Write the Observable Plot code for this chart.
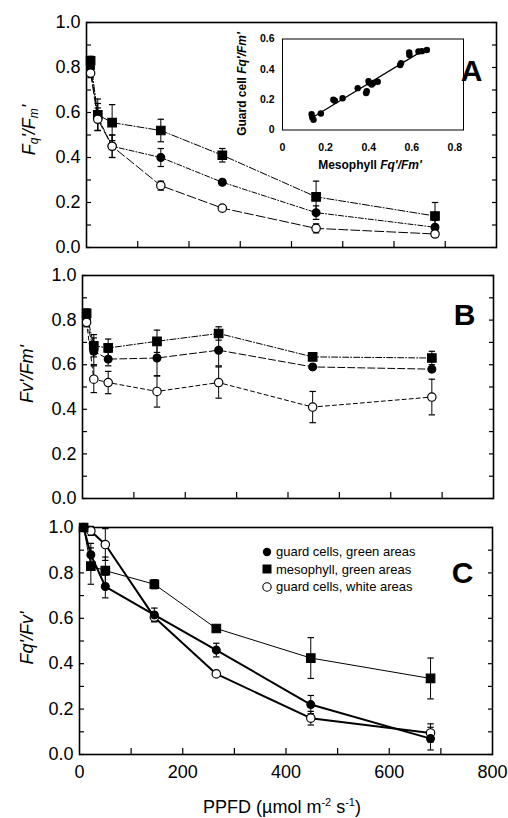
<!DOCTYPE html>
<html><head><meta charset="utf-8">
<script src="https://cdn.jsdelivr.net/npm/d3@7"></script>
<script src="https://cdn.jsdelivr.net/npm/@observablehq/plot@0.6"></script>
<style>
body{margin:0;background:#fff;}
#wrap{position:relative;width:508px;height:818px;font-family:"Liberation Sans",Arial,sans-serif;overflow:hidden;background:#fff;}
#wrap svg{position:absolute;}
.ylab{position:absolute;transform:translate(-50%,-50%) rotate(-90deg);white-space:nowrap;font-size:18px;font-style:italic;}
.ylab sub{font-size:12px;vertical-align:-3px;}
.xlab{position:absolute;transform:translate(-50%,-50%);white-space:nowrap;font-size:18px;}
.xlab sup{font-size:11px;vertical-align:7px;}
.ilab{position:absolute;white-space:nowrap;font-size:12px;font-weight:bold;}
.legend{position:absolute;left:261px;top:543px;font-size:13px;line-height:17.5px;}
.legend div{display:flex;align-items:center;height:17.5px;}
.legend svg{position:static !important;margin-right:3px;}
</style></head><body><div id="wrap"></div>
<script>
// ---------- data ----------
const ppfd = [8, 22, 50, 145, 265, 448, 680];

// Panel A: Fq'/Fm'
const aMeso = [0.83, 0.59, 0.555, 0.52, 0.41, 0.225, 0.14];
const aMesoErr = [0.02, 0.07, 0.08, 0.05, 0.03, 0.07, 0.06];
const aGuardGreen = [0.80, 0.58, 0.45, 0.40, 0.29, 0.155, 0.09];
const aGuardGreenErr = [0.02, 0.06, 0.05, 0.04, 0.01, 0.03, 0.03];
const aGuardWhite = [0.775, 0.57, 0.45, 0.275, 0.175, 0.085, 0.06];
const aGuardWhiteErr = [0.02, 0.05, 0.05, 0.02, 0.01, 0.02, 0.01];

// Panel B: Fv'/Fm'
const bMeso = [0.83, 0.685, 0.675, 0.705, 0.74, 0.635, 0.63];
const bMesoErr = [0.02, 0.05, 0.04, 0.05, 0.03, 0.01, 0.03];
const bGuardGreen = [0.80, 0.66, 0.625, 0.63, 0.665, 0.59, 0.58];
const bGuardGreenErr = [0.02, 0.06, 0.03, 0.08, 0.07, 0.01, 0.01];
const bGuardWhite = [0.79, 0.535, 0.52, 0.48, 0.52, 0.41, 0.455];
const bGuardWhiteErr = [0.02, 0.06, 0.05, 0.07, 0.07, 0.07, 0.08];

// Panel C: Fq'/Fv'
const cMeso = [1.0, 0.83, 0.81, 0.75, 0.555, 0.425, 0.335];
const cMesoErr = [0, 0.08, 0.06, 0.02, 0.01, 0.09, 0.09];
const cGuardGreen = [1.0, 0.88, 0.74, 0.615, 0.46, 0.22, 0.07];
const cGuardGreenErr = [0, 0.05, 0.05, 0.03, 0.03, 0.04, 0.05];
const cGuardWhite = [1.0, 0.985, 0.925, 0.605, 0.355, 0.16, 0.095];
const cGuardWhiteErr = [0, 0.02, 0.07, 0.02, 0.01, 0.03, 0.04];

// Inset: mesophyll vs guard cell Fq'/Fm'
const insetMeso = [0.135, 0.138, 0.144, 0.178, 0.236, 0.243, 0.279, 0.349, 0.391, 0.388, 0.399, 0.403, 0.414, 0.422, 0.442, 0.546, 0.55, 0.588, 0.589, 0.631, 0.647, 0.67];
const insetGuard = [0.105, 0.084, 0.067, 0.109, 0.20, 0.193, 0.209, 0.276, 0.256, 0.244, 0.322, 0.311, 0.30, 0.311, 0.318, 0.429, 0.44, 0.511, 0.495, 0.518, 0.52, 0.527];

// ticks
const yTickLabels = [0, 0.2, 0.4, 0.6, 0.8, 1.0];
const yMinorTicks = [0, 0.1, 0.2, 0.3, 0.4, 0.5, 0.6, 0.7, 0.8, 0.9, 1.0];
const xTickLabels = [0, 200, 400, 600, 800];
const xMinorTicks = [100, 200, 300, 400, 500, 600, 700];
const insetXTicks = [0, 0.2, 0.4, 0.6, 0.8];
const insetYTicks = [0, 0.2, 0.4, 0.6];
const legendLabels = ["guard cells, green areas", "mesophyll, green areas", "guard cells, white areas"];

// ---------- helpers ----------
const wrap = document.getElementById("wrap");
const rows = (vals, errs) => ppfd.map((x, i) => ({x, y: vals[i], e: errs[i]}));
const capSymbol = {draw(ctx, size) { const w = Math.sqrt(size / Math.PI); ctx.moveTo(-w, 0); ctx.lineTo(w, 0); }};
const fmt1 = d3.format(".1f");
const FONT = "'Liberation Sans', Arial, sans-serif";

function place(svg, left, top) { svg.style.left = left + "px"; svg.style.top = top + "px"; wrap.appendChild(svg); }

function panel(cfg) {
  const marks = [
    Plot.frame({stroke: "black", strokeWidth: 1.6}),
    Plot.axisY(yMinorTicks, {anchor: "left", tickSize: -5, tickFormat: () => "", label: null, strokeWidth: 1.2}),
    Plot.axisY(yMinorTicks, {anchor: "right", tickSize: -5, tickFormat: () => "", label: null, strokeWidth: 1.2}),
    Plot.axisY(yTickLabels, {anchor: "left", tickSize: 0, tickPadding: 6, tickFormat: fmt1, label: null, fontSize: 18}),
    Plot.axisX(xMinorTicks, {anchor: "bottom", tickSize: -6, tickFormat: () => "", label: null, strokeWidth: 1.2})
  ];
  if (cfg.xLabels) marks.push(Plot.axisX(xTickLabels, {anchor: "bottom", tickSize: 0, tickPadding: 11, tickFormat: d => String(d), label: null, fontSize: 18}));
  for (const s of cfg.sets) marks.push(Plot.line(s.data, {x: "x", y: "y", stroke: "black", strokeWidth: s.width, strokeDasharray: s.dash}));
  for (const s of cfg.sets) {
    const ed = s.data.filter(d => d.e > 0);
    marks.push(Plot.ruleX(ed, {x: "x", y1: d => d.y - d.e, y2: d => d.y + d.e, stroke: "black", strokeWidth: 1}));
    marks.push(Plot.dot(ed, {x: "x", y: d => d.y + d.e, symbol: capSymbol, r: 3.2, fill: "none", stroke: "black", strokeWidth: 1.2}));
    marks.push(Plot.dot(ed, {x: "x", y: d => d.y - d.e, symbol: capSymbol, r: 3.2, fill: "none", stroke: "black", strokeWidth: 1.2}));
  }
  for (const s of cfg.order) marks.push(Plot.dot(s.data, {x: "x", y: "y", symbol: s.symbol, r: s.r, fill: s.fill, stroke: "black", strokeWidth: 1.2}));
  marks.push(Plot.text([cfg.letter], {frameAnchor: "top-right", textAnchor: "end", lineAnchor: "middle", dx: cfg.ldx, dy: cfg.ldy, fontSize: 30, fontWeight: "bold", fill: "black"}));
  const svg = Plot.plot({
    width: 508, height: cfg.height,
    marginLeft: cfg.mL, marginRight: cfg.mR, marginTop: cfg.mT, marginBottom: cfg.mB,
    x: {domain: [0, 800]}, y: {domain: [0, 1]},
    style: {background: "transparent", fontFamily: FONT, fontSize: "18px", color: "black", overflow: "visible"},
    marks
  });
  place(svg, 0, cfg.top);
}

function sets(meso, mesoE, gg, ggE, gw, gwE, dashes, widths) {
  const M = {data: rows(meso, mesoE), symbol: "square", r: 4.8, fill: "black", dash: dashes[0], width: widths[0]};
  const G = {data: rows(gg, ggE), symbol: "circle", r: 3.9, fill: "black", dash: dashes[1], width: widths[1]};
  const W = {data: rows(gw, gwE), symbol: "circle", r: 4.2, fill: "white", dash: dashes[2], width: widths[2]};
  return {M, G, W};
}

// Panel A
{
  const {M, G, W} = sets(aMeso, aMesoErr, aGuardGreen, aGuardGreenErr, aGuardWhite, aGuardWhiteErr,
    ["7,2,1,2", "5,2,1,2", "9,3"], [1, 1, 1]);
  panel({top: 0, height: 253, mL: 86, mR: 12, mT: 22, mB: 6, letter: "A", ldx: -14, ldy: 49,
    sets: [M, G, W], order: [M, G, W]});
}
// Panel B
{
  const {M, G, W} = sets(bMeso, bMesoErr, bGuardGreen, bGuardGreenErr, bGuardWhite, bGuardWhiteErr,
    ["6,2,1,2", "7,3", "4,3"], [1, 1, 1]);
  panel({top: 255, height: 249, mL: 82, mR: 15, mT: 20, mB: 6, letter: "B", ldx: -18, ldy: 40,
    sets: [M, G, W], order: [M, G, W]});
}
// Panel C
{
  const {M, G, W} = sets(cMeso, cMesoErr, cGuardGreen, cGuardGreenErr, cGuardWhite, cGuardWhiteErr,
    [null, null, null], [1, 2, 2]);
  panel({top: 505, height: 313, mL: 79, mR: 16, mT: 22, mB: 64, letter: "C", ldx: -19, ldy: 46,
    sets: [M, G, W], order: [W, G, M], xLabels: true});
}

// Inset (panel A)
{
  const data = insetMeso.map((x, i) => ({x, y: insetGuard[i]}));
  const svg = Plot.plot({
    width: 240, height: 156, marginLeft: 52, marginRight: 7, marginTop: 14.5, marginBottom: 50.5,
    x: {domain: [0, 0.84]}, y: {domain: [0, 0.6]},
    style: {background: "transparent", fontFamily: FONT, fontSize: "10px", color: "black", overflow: "visible"},
    marks: [
      Plot.frame({stroke: "black", strokeWidth: 1}),
      Plot.axisY(insetYTicks, {anchor: "left", tickSize: 0, tickPadding: 8, tickFormat: d => d === 0 ? "0" : fmt1(d), label: null, fontSize: 10.5, fontWeight: "bold"}),
      Plot.axisX(insetXTicks, {anchor: "bottom", tickSize: 0, tickPadding: 14, tickFormat: d => d === 0 ? "0" : fmt1(d), label: null, fontSize: 10.5, fontWeight: "bold"}),
      Plot.linearRegressionY(data, {x: "x", y: "y", ci: 0, stroke: "black", strokeWidth: 1.2}),
      Plot.dot(data, {x: "x", y: "y", r: 3.2, fill: "black"})
    ]
  });
  place(svg, 230, 24);
}

// HTML labels
function addHTML(cls, html, left, top) {
  const d = document.createElement("div");
  d.className = cls; d.innerHTML = html;
  d.style.left = left + "px"; d.style.top = top + "px";
  wrap.appendChild(d);
  return d;
}
addHTML("ylab", "F<sub>q</sub>'/F<sub>m</sub>'", 30, 130);
addHTML("ylab", "Fv'/Fm'", 27, 374);
addHTML("ylab", "Fq'/Fv'", 27, 638);
addHTML("xlab", "PPFD (µmol m<sup>-2</sup> s<sup>-1</sup>)", 282, 807);
{
  const d = addHTML("ilab", "Mesophyll <i>Fq'/Fm'</i>", 370, 165);
  d.style.transform = "translate(-50%,-50%)";
  const e = addHTML("ilab", "Guard cell <i>Fq'/Fm'</i>", 242, 84);
  e.style.transform = "translate(-50%,-50%) rotate(-90deg)";
}

// Legend (panel C)
{
  const lg = document.createElement("div");
  lg.className = "legend";
  const syms = [
    `<circle cx="6" cy="6" r="4.2" fill="black"/>`,
    `<rect x="1.5" y="1.5" width="9" height="9" fill="black"/>`,
    `<circle cx="6" cy="6" r="4.2" fill="white" stroke="black" stroke-width="1.1"/>`
  ];
  legendLabels.forEach((t, i) => {
    const row = document.createElement("div");
    row.innerHTML = `<svg width="12" height="12" viewBox="0 0 12 12">${syms[i]}</svg><span>${t}</span>`;
    lg.appendChild(row);
  });
  wrap.appendChild(lg);
}
</script></body></html>
